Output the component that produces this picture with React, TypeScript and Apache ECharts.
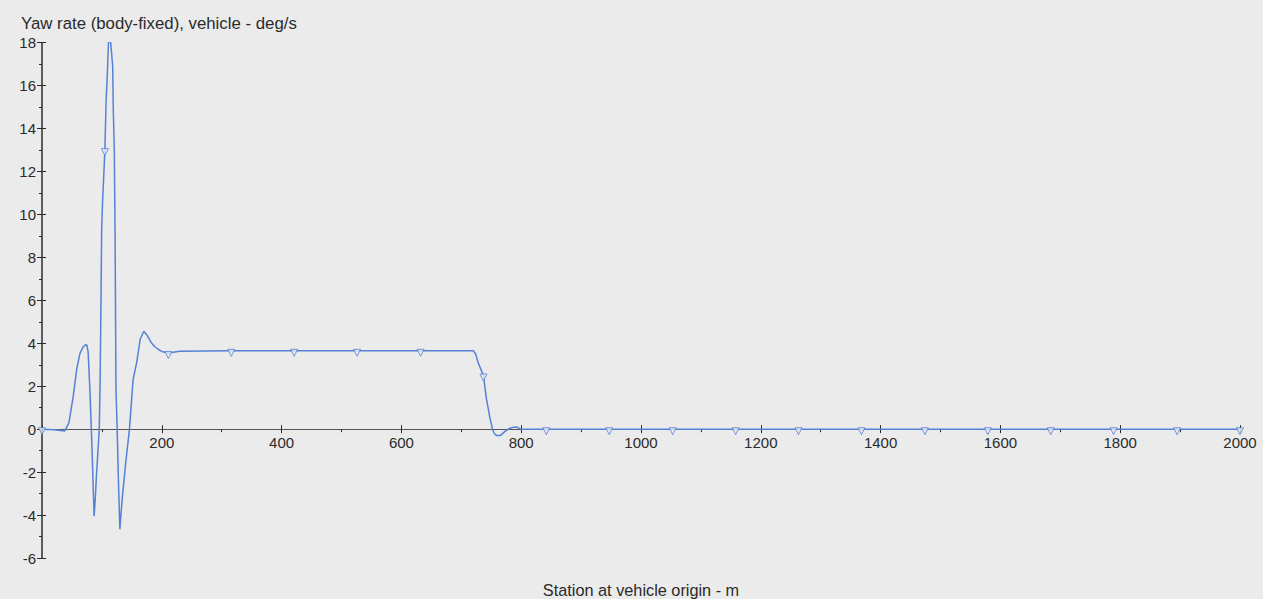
import React, { useEffect, useRef } from "react";
import * as echarts from "echarts";

const yAxisTitle = "Yaw rate (body-fixed), vehicle - deg/s";
const xAxisTitle = "Station at vehicle origin - m";

const stations = [
  0, 20, 38, 45, 52, 58, 63, 68, 73, 75, 77, 80, 83, 87, 89, 91, 93, 95.6, 97,
  98.5, 99.6, 101, 105, 107, 109, 111, 112.5, 114.7, 118, 119, 120.7, 122, 123.5,
  125.5, 127.5, 130, 134, 140, 146, 152, 158, 164, 170, 176, 182, 188, 195, 200,
  211, 230, 316, 421, 526, 632, 720, 724, 728, 737, 742, 748, 752, 755, 759,
  765, 771, 778, 785, 792, 796, 800, 842, 947, 1053, 1158, 1263, 1368, 1474,
  1579, 1684, 1789, 1895, 2000,
];

const yawRate = [
  0, -0.03, -0.08, 0.3, 1.5, 2.8, 3.5, 3.8, 3.94, 3.9, 3.6, 1.8, -0.5, -4.05,
  -3.2, -2.1, -1.2, 0, 2.2, 6, 9.3, 10.5, 13, 15.3, 16.5, 18, 18.1, 18, 16.9,
  14.9, 13, 9.1, 1.85, 0, -2.3, -4.66, -3.2, -1.5, 0, 2.3, 3.1, 4.2, 4.56, 4.35,
  4.05, 3.85, 3.7, 3.62, 3.55, 3.63, 3.65, 3.65, 3.65, 3.65, 3.65, 3.5, 3.1,
  2.5, 1.4, 0.5, 0, -0.2, -0.3, -0.3, -0.15, 0, 0.08, 0.1, 0.05, 0, 0, 0, 0, 0,
  0, 0, 0, 0, 0, 0, 0, 0,
];

const markerStations = [
  0, 105, 211, 316, 421, 526, 632, 737, 842, 947, 1053, 1158, 1263, 1368, 1474,
  1579, 1684, 1789, 1895, 2000,
];

const X_MIN = 0;
const X_MAX = 2000;
const X_STEP = 200;
const Y_MIN = -6;
const Y_MAX = 18;
const Y_STEP = 2;

const LINE_COLOR = "#5581d6";
const BG = "#ebebeb";
const AXIS_COLOR = "#2b2b2b";
const TEXT_COLOR = "#2a2a2a";
const FONT = "'Liberation Sans', Arial, sans-serif";

const GRID_LEFT = 42;
const GRID_RIGHT = 23;
const GRID_TOP = 42.7;
const GRID_BOTTOM = 41;
const WIDTH = 1263;
const HEIGHT = 599;

export default function App() {
  const ref = useRef<HTMLDivElement>(null);

  useEffect(() => {
    document.body.style.margin = "0";
    if (!ref.current) return;
    const chart = echarts.init(ref.current, undefined, { renderer: "svg" });

    const lineData = stations.map((s, i) => [s, yawRate[i]]);
    const markerData = lineData.filter((d) => markerStations.includes(d[0]));

    // shift x axis up so it sits at y = 0
    const plotH = HEIGHT - GRID_TOP - GRID_BOTTOM;
    const zeroOffset = -plotH * ((0 - Y_MIN) / (Y_MAX - Y_MIN));
    const plotCenterX = GRID_LEFT + (WIDTH - GRID_LEFT - GRID_RIGHT) / 2;

    const xCommon = {
      type: "value",
      min: X_MIN,
      max: X_MAX,
      interval: X_STEP,
      position: "bottom",
      offset: zeroOffset,
      splitLine: { show: false },
    };
    const yCommon = {
      type: "value",
      min: Y_MIN,
      max: Y_MAX,
      interval: Y_STEP,
      position: "left",
      splitLine: { show: false },
    };

    chart.setOption({
      animation: false,
      backgroundColor: BG,
      grid: { left: GRID_LEFT, right: GRID_RIGHT, top: GRID_TOP, bottom: GRID_BOTTOM, containLabel: false },
      graphic: [
        {
          type: "text",
          x: 21,
          y: 23,
          style: {
            text: yAxisTitle,
            font: `16.8px ${FONT}`,
            fill: TEXT_COLOR,
            verticalAlign: "middle",
          },
        },
        {
          type: "text",
          x: plotCenterX,
          y: 590,
          style: {
            text: xAxisTitle,
            font: `16.3px ${FONT}`,
            fill: TEXT_COLOR,
            align: "center",
            verticalAlign: "middle",
          },
        },
      ],
      xAxis: [
        {
          ...xCommon,
          axisLine: { show: true, onZero: false, lineStyle: { color: "#555", width: 1 } },
          axisTick: { show: true, length: 4, lineStyle: { color: AXIS_COLOR } },
          minorTick: { show: true, splitNumber: 2, length: 3, lineStyle: { color: AXIS_COLOR } },
          axisLabel: {
            showMinLabel: false,
            formatter: (v: number) => String(v),
            color: TEXT_COLOR,
            fontSize: 15,
            fontFamily: FONT,
            margin: 6,
          },
        },
        {
          ...xCommon,
          axisLine: { show: false, onZero: false },
          axisTick: { show: true, inside: true, length: 4, lineStyle: { color: AXIS_COLOR } },
          minorTick: { show: false },
          axisLabel: { show: false },
        },
      ],
      yAxis: [
        {
          ...yCommon,
          axisLine: { show: true, onZero: false, lineStyle: { color: AXIS_COLOR, width: 1.5 } },
          axisTick: { show: true, length: 5, lineStyle: { color: AXIS_COLOR } },
          minorTick: { show: true, splitNumber: 2, length: 3, lineStyle: { color: AXIS_COLOR } },
          axisLabel: {
            color: TEXT_COLOR,
            fontSize: 15,
            fontFamily: FONT,
            margin: 6,
          },
        },
        {
          ...yCommon,
          axisLine: { show: false, onZero: false },
          axisTick: { show: true, inside: true, length: 4, lineStyle: { color: AXIS_COLOR } },
          minorTick: { show: false },
          axisLabel: { show: false },
        },
      ],
      series: [
        {
          type: "line",
          xAxisIndex: 0,
          yAxisIndex: 0,
          data: lineData,
          showSymbol: false,
          smooth: false,
          lineStyle: { color: LINE_COLOR, width: 1.5 },
          z: 3,
        },
        {
          type: "scatter",
          xAxisIndex: 0,
          yAxisIndex: 0,
          data: markerData,
          symbol: "triangle",
          symbolRotate: 180,
          symbolSize: 7,
          symbolOffset: [0, 2],
          itemStyle: { color: BG, borderColor: LINE_COLOR, borderWidth: 1 },
          z: 4,
        },
      ],
    });

    return () => chart.dispose();
  }, []);

  return <div ref={ref} style={{ width: WIDTH, height: HEIGHT }} />;
}
